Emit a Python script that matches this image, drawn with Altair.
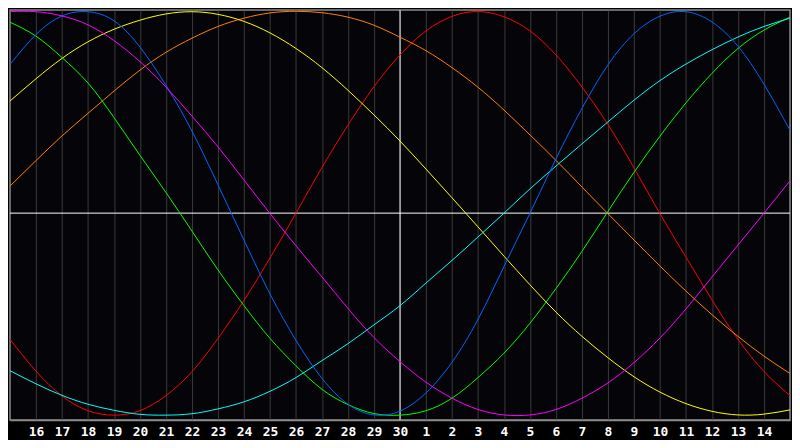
import altair as alt
import pandas as pd

# day index 0..30 and the date labels shown under the grid lines
day_index = list(range(31))
day_labels = ["15", "16", "17", "18", "19", "20", "21", "22", "23", "24", "25", "26",
              "27", "28", "29", "30", "1", "2", "3", "4", "5", "6", "7", "8", "9",
              "10", "11", "12", "13", "14", "15"]
today_index = 15

# curve values (percent) at each day
red = [-62.5, -78.2, -90.5, -97.8, -100.0, -97.8, -90.3, -78.5, -62.0, -43.2, -22.2,
       0.0, 22.6, 43.6, 62.6, 78.3, 90.2, 97.4, 99.8, 97.2, 90.2, 78.3, 62.4, 43.8,
       22.4, -0.3, -21.8, -43.0, -62.5, -78.4, -90.3]
orange = [13.4, 26.0, 38.2, 49.4, 60.4, 70.8, 79.6, 86.6, 92.4, 96.5, 99.1, 99.9,
          99.2, 97.0, 93.0, 87.1, 80.4, 72.0, 62.3, 51.0, 38.7, 26.1, 12.9, -0.3,
          -13.3, -26.2, -38.6, -50.3, -61.0, -70.8, -79.4]
yellow = [55.5, 66.5, 76.6, 84.8, 91.0, 95.5, 98.6, 99.7, 98.4, 94.9, 89.2, 81.5,
          72.0, 60.8, 48.6, 35.7, 21.8, 7.6, -6.8, -21.3, -35.5, -49.0, -61.0, -71.6,
          -81.0, -88.6, -94.3, -98.1, -99.9, -99.5, -97.4]
green = [94.5, 87.6, 77.0, 64.4, 47.3, 28.6, 10.2, -8.9, -28.1, -45.8, -62.0, -75.6,
         -87.2, -94.8, -99.2, -100.0, -97.8, -91.6, -81.4, -69.3, -54.5, -37.3, -18.9,
         0.9, 20.2, 38.1, 54.6, 69.2, 81.5, 90.6, 97.0]
cyan = [-78.0, -84.5, -90.2, -94.6, -97.6, -99.6, -100.0, -99.3, -96.9, -93.4, -88.2,
        -81.4, -73.0, -64.6, -55.3, -45.8, -34.6, -23.4, -11.8, 0.0, 12.0, 23.3, 34.3,
        45.2, 55.9, 65.6, 73.8, 80.9, 87.2, 92.4, 96.5]
blue = [73.6, 88.4, 97.6, 99.7, 95.2, 82.2, 63.2, 40.6, 14.0, -13.4, -40.0, -63.0,
        -81.8, -94.6, -99.9, -98.0, -89.0, -73.8, -52.6, -26.4, 0.0, 26.9, 51.9, 73.4,
        88.8, 97.5, 99.7, 94.6, 82.6, 63.8, 41.0]
magenta = [99.8, 99.7, 97.6, 93.2, 85.4, 75.0, 62.4, 48.0, 32.8, 16.4, -0.2, -16.2,
           -31.6, -47.2, -61.6, -73.5, -83.7, -91.6, -97.2, -99.9, -99.9, -97.2, -91.6,
           -84.0, -74.0, -61.8, -47.4, -31.6, -15.8, 0.0, 16.0]

series_names = ["red", "orange", "yellow", "green", "cyan", "blue", "magenta"]
series_values = [red, orange, yellow, green, cyan, blue, magenta]
series_colors = ["#ff0000", "#ff8000", "#ffff00", "#00ff00", "#00ffff", "#0066ff", "#ff00ff"]

rows = []
for name, vals in zip(series_names, series_values):
    for i, v in zip(day_index, vals):
        rows.append({"series": name, "day": i, "value": v})
df = pd.DataFrame(rows)

label_array = "[" + ",".join("'" + s + "'" for s in day_labels) + "]"

x_scale = alt.Scale(domain=[0, 30], nice=False, zero=False)
y_scale = alt.Scale(domain=[-102.4, 100.5], nice=False, zero=False)

x_axis = alt.Axis(
    values=list(range(1, 30)),
    labelExpr=label_array + "[datum.value]",
    title=None,
    grid=True,
    gridColor="#3a3a3a",
    gridWidth=1,
    ticks=False,
    domain=True,
    domainColor="#8c8c8c",
    domainWidth=1.5,
    labelColor="#ffffff",
    labelFont="DejaVu Sans Mono",
    labelFontWeight="bold",
    labelFontSize=13,
    labelPadding=6,
    labelBaseline="top",
    labelAlign="center",
    labelOverlap=False,
    labelFlush=False,
)

lines = alt.Chart(df).mark_line(strokeWidth=1, interpolate="natural").encode(
    x=alt.X("day:Q", scale=x_scale, axis=x_axis),
    y=alt.Y("value:Q", scale=y_scale, axis=None),
    color=alt.Color("series:N", scale=alt.Scale(domain=series_names, range=series_colors),
                    legend=None),
)

vline = alt.Chart(pd.DataFrame({"day": [today_index]})).mark_rule(
    color="#ffffff", strokeWidth=1
).encode(x=alt.X("day:Q", scale=x_scale, axis=x_axis))

hline = alt.Chart(pd.DataFrame({"value": [0]})).mark_rule(
    color="#ffffff", strokeWidth=1
).encode(y=alt.Y("value:Q", scale=y_scale, axis=None))

chart = alt.layer(vline, hline, lines).properties(
    width=784, height=412, background="#000000"
).configure(
    padding=0
).configure_view(
    fill="#050509", stroke="#8c8c8c", strokeWidth=1.5
)

chart.save("out.html", embed_options={"renderer": "svg", "actions": False})
